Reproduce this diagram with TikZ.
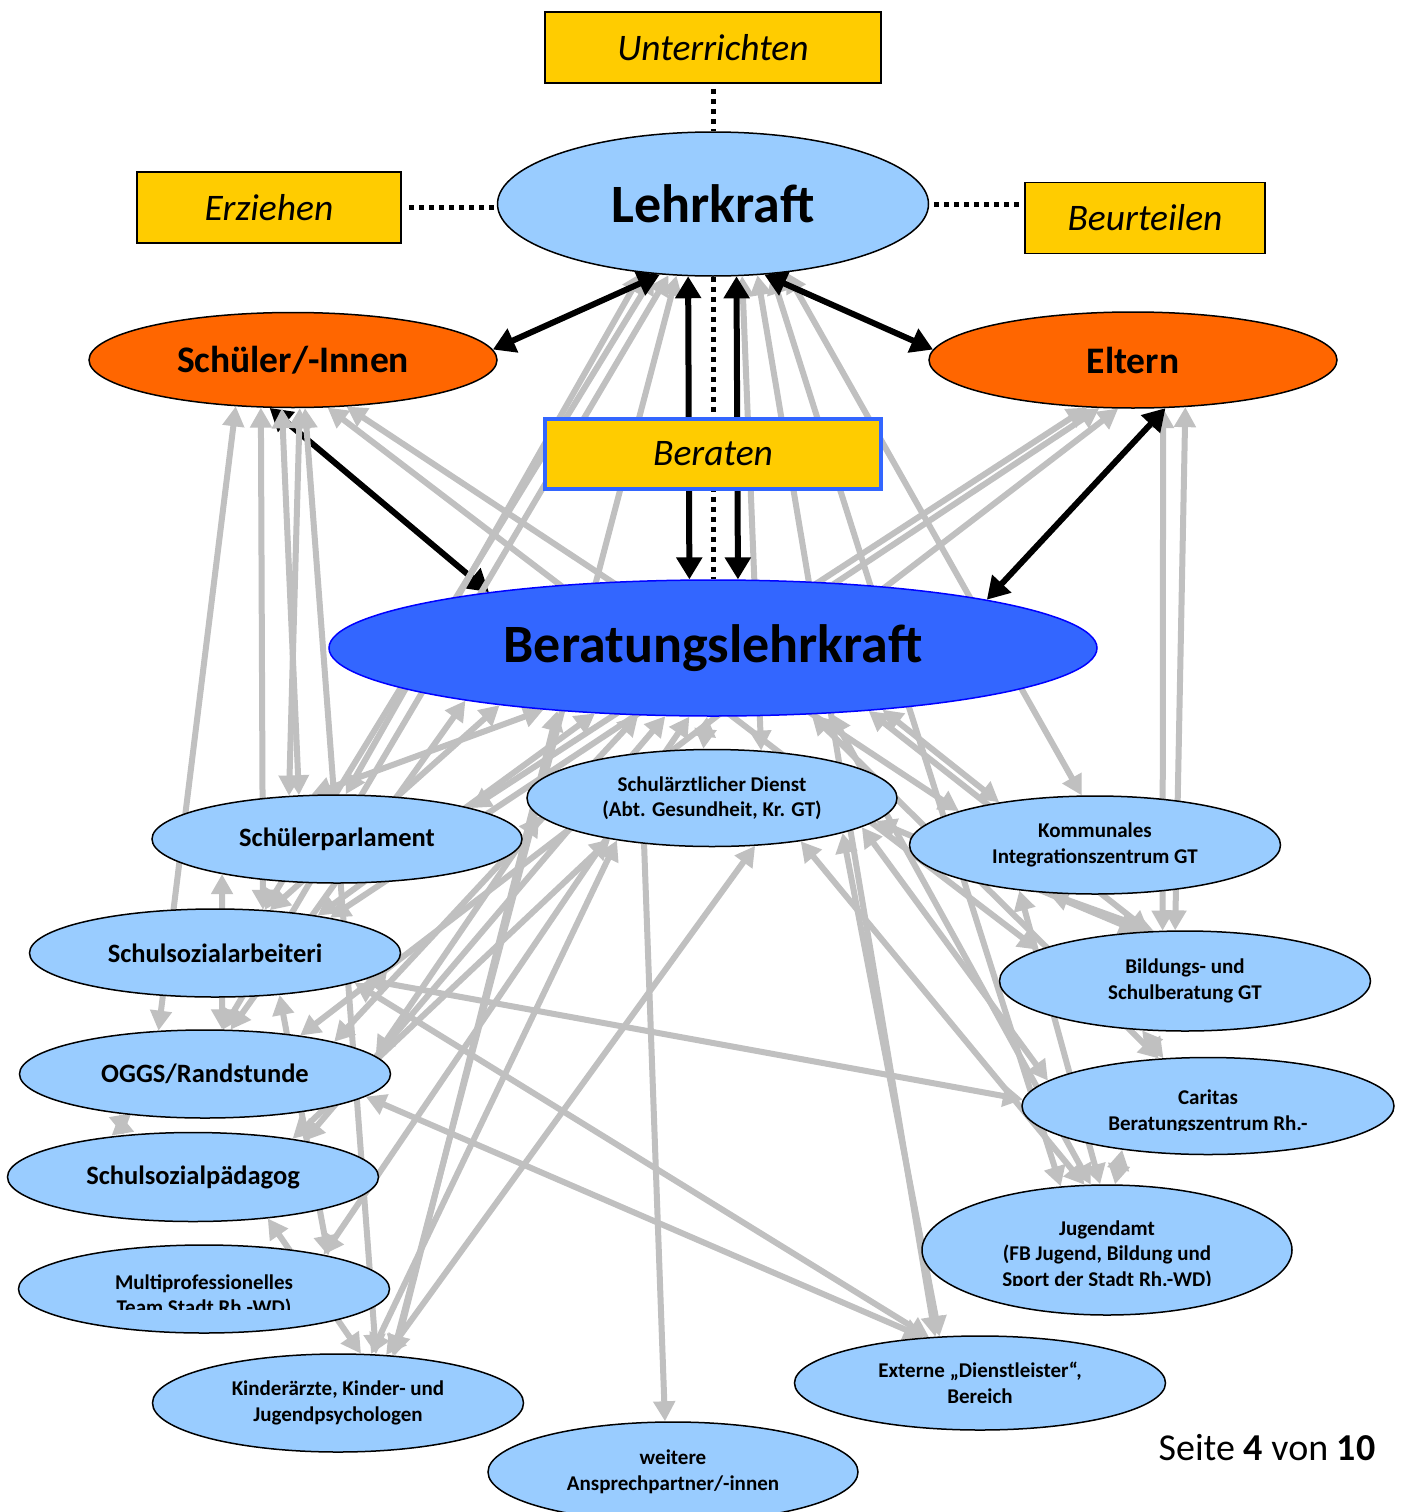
\documentclass[tikz,border=0pt]{standalone}
\usepackage{fontspec}
\setmainfont{Carlito}
\usetikzlibrary{shapes.geometric,arrows.meta,backgrounds}
\definecolor{lblue}{HTML}{99CCFF}
\definecolor{dblue}{HTML}{3366FF}
\definecolor{orng}{HTML}{FF6600}
\definecolor{gld}{HTML}{FFCC00}
\definecolor{gry}{HTML}{C0C0C0}
\tikzset{
  gtip/.tip={Triangle[length=20pt,width=21pt]},
  btip/.tip={Triangle[length=22pt,width=25pt]},
}
\begin{document}
\begin{tikzpicture}[x=1pt,y=-1pt,
  tk/.style={draw=black, line width=1.5pt, fill=gld, inner sep=0pt, font=\itshape\fontsize{37.5}{45}\selectfont},
  el/.style={ellipse, draw=black, line width=1.5pt, fill=lblue, inner sep=0pt, align=center, minimum width=371pt, font=\bfseries\fontsize{21}{25.5}\selectfont},
  md/.style={el, font=\bfseries\fontsize{26.5}{32}\selectfont},
  txt/.style={align=center, inner sep=0pt, font=\bfseries\fontsize{21}{25.5}\selectfont},
  gar/.style={draw=gry, line width=6pt, gtip-gtip},
  garone/.style={draw=gry, line width=6pt, -gtip},
  bar/.style={draw=black, line width=6pt, btip-btip},
  dotl/.style={draw=black, line width=5pt, dash pattern=on 5pt off 5pt},
]
\useasboundingbox (0,0) rectangle (1402,1512);

% task boxes
\node[tk, minimum width=336pt, minimum height=71pt] (unt) at (713,47.5) {Unterrichten};
\node[tk, minimum width=264pt, minimum height=71pt] (erz) at (269,207.5) {Erziehen};
\node[tk, minimum width=240pt, minimum height=71pt] (beu) at (1145,218) {Beurteilen};
\node[tk, draw=dblue, line width=4pt, minimum width=336pt, minimum height=70pt] (ber) at (713,454) {Beraten};

% main ellipses
\node[el, minimum width=431pt, minimum height=144pt, font=\bfseries\fontsize{54}{64}\selectfont] (lk) at (713,204) {Lehrkraft};
\node[el, fill=orng, minimum width=408pt, minimum height=95pt, font=\bfseries\fontsize{37.5}{45}\selectfont] (sch) at (293,360) {Schüler/-Innen};
\node[el, fill=orng, minimum width=408pt, minimum height=96pt, font=\bfseries\fontsize{37.5}{45}\selectfont] (elt) at (1133,360) {Eltern};
\node[el, fill=dblue, draw=blue, minimum width=768pt, minimum height=136pt, font=\bfseries\fontsize{54}{64}\selectfont] (blk) at (713,648) {Beratungslehrkraft};

% partner ellipses
\node[el, minimum width=370pt, minimum height=97pt] (sd) at (712,798) {Schulärztlicher Dienst\\(Abt. Gesundheit, Kr. GT)};
\node[md, minimum width=370pt, minimum height=88pt] (sp) at (337,839) {Schülerparlament};
\node[el, minimum height=98pt] (ki) at (1095,845) {Kommunales\\Integrationszentrum GT};
\node[md, minimum height=88pt] (sa) at (215,953) {Schulsozialarbeiteri};
\node[el, minimum height=100pt] (bs) at (1185,981) {Bildungs- und\\Schulberatung GT};
\node[md, minimum height=88pt] (og) at (205,1074) {OGGS/Randstunde};
\node[el, minimum width=372pt, minimum height=97pt] (ca) at (1208,1106) {};
\node[md, minimum height=89pt] (pd) at (193,1177) {Schulsozialpädagog};
\node[el, minimum width=370pt, minimum height=130pt] (ja) at (1107,1250) {};
\node[el, minimum height=88pt] (mt) at (204,1289) {};
\node[el, minimum height=94pt] (ex) at (980,1383) {Externe „Dienstleister“,\\Bereich};
\node[el, minimum height=98pt] (ka) at (338,1403) {Kinderärzte, Kinder- und\\Jugendpsychologen};
\node[el, minimum width=370pt, minimum height=100pt] (wa) at (673,1472) {weitere\\Ansprechpartner/-innen};

% clipped texts
\begin{scope}
\clip (1030,1070) rectangle (1390,1130);
\node[txt] (cat) at (1208,1112) {Caritas\\Beratungszentrum Rh.-};
\end{scope}
\begin{scope}
\clip (930,1200) rectangle (1290,1285);
\node[txt] (jat) at (1107,1255) {Jugendamt\\(FB Jugend, Bildung und\\Sport der Stadt Rh.-WD)};
\end{scope}
\begin{scope}
\clip (25,1260) rectangle (385,1309);
\node[txt] (mtt) at (204,1296) {Multiprofessionelles\\Team Stadt Rh.-WD)};
\end{scope}

\node[anchor=base, inner sep=0pt, font=\fontsize{38}{46}\selectfont] (pg) at (1267,1460) {Seite \textbf{4} von \textbf{10}};

\begin{pgfonlayer}{background}
\fill[white] (0,0) rectangle (1402,1512);
% black arrow partly hidden by grey ones
\draw[bar] (sch.244) -- (blk.166);
% grey connectors
\draw[gar] (sp.79) -- (lk.224);
\draw[gar] (sa.41) -- (lk.230);
\draw[gar] (og.68) -- (lk.238);
\draw[gar] (ka.41) -- (lk.243);
\draw[gar] (sd.44) -- (lk.292);
\draw[gar] (ex.134) -- (lk.302);
\draw[gar] (ja.126) -- (lk.310);
\draw[gar] (ki.105) -- (lk.317);
\draw[gar] (sp.13) -- (elt.226);
\draw[gar] (sa.17) -- (elt.235);
\draw[gar] (og.22) -- (elt.253);
\draw[gar] (bs.114) -- (elt.302.5);
\draw[gar] (bs.101) -- (elt.318.5);
\draw[gar] (sch.219) -- (og.137.5);
\draw[gar] (sch.236) -- (sa.42.5);
\draw[gar] (sch.257) -- (sp.131);
\draw[gar] (sch.278.5) -- (sp.138);
\draw[gar] (sch.284) -- (ka.52);
\draw[gar] (sch.306.5) -- (bs.168);
\draw[gar] (sch.319) -- (ki.166);
\draw[gar] (sa.-10) -- (ca.178);
\draw[gar] (sa.-12) -- (ex.138);
\draw[gar] (og.-8) -- (ex.141);
\draw[garone] (sd.214) -- (wa.99);
\draw[gar] (sd.312.5) -- (ka.45);
\draw[gar] (sd.204.5) -- (ka.56);
\draw[gar] (sd.202) -- (pd.21);
\draw[gar] (sd.186) -- (og.6);
\draw[gar] (sp.120) -- (blk.200.6);
\draw[gar] (sa.20) -- (blk.209);
\draw[gar] (og.14.8) -- (blk.222.5);
\draw[gar] (pd.18.6) -- (blk.235);
\draw[gar] (mt.16.5) -- (blk.251.3);
\draw[gar] (ka.40.4) -- (blk.202.2);
\draw[gar] (sd.100) -- (blk.265);
\draw[gar] (ki.156) -- (blk.340.5);
\draw[gar] (bs.126) -- (blk.338.5);
\draw[gar] (ca.136) -- (blk.326);
\draw[gar] (ja.104.7) -- (blk.331);
\draw[gar] (ki.226.5) -- (bs.122);
\draw[gar] (ki.211) -- (ja.96);
\draw[gar] (bs.229) -- (ca.133);
\draw[gar] (ca.207.4) -- (ja.83);
\draw[gar] (sd.345) -- (ex.131);
\draw[gar] (sd.334.5) -- (ja.109);
\draw[gar] (sd.349) -- (ca.171);
\draw[gar] (sd.352) -- (bs.133);
\draw[gar] (og.205) -- (pd.149);
\draw[gar] (pd.331) -- (ka.65.6);
\draw[gar] (sa.-33) -- (mt.15.4);
\draw[gar] (blk.192.2) -- (og.60);
\draw[gar] (sp.197) -- (og.69);
\draw[gar] (blk.195) -- (sa.38.7);
% black connectors
\draw[bar] (lk.233) -- (sch.3);
\draw[bar] (lk.306.6) -- (elt.177);
\draw[bar] (lk.251.4) -- (blk.109.4);
\draw[bar] (lk.288.6) -- (blk.70.6);
\draw[bar] (elt.304) -- (blk.10.2);
% dotted links
\draw[dotl, shorten <=5pt] (unt.south) -- (lk.north);
\draw[dotl, shorten <=7pt] (erz.east) -- (erz.east -| lk.west);
\draw[dotl, shorten <=5pt] (lk.east) -- (lk.east -| beu.west);
\draw[dotl] (lk.south) -- (blk.north);
\end{pgfonlayer}
\end{tikzpicture}
\end{document}
